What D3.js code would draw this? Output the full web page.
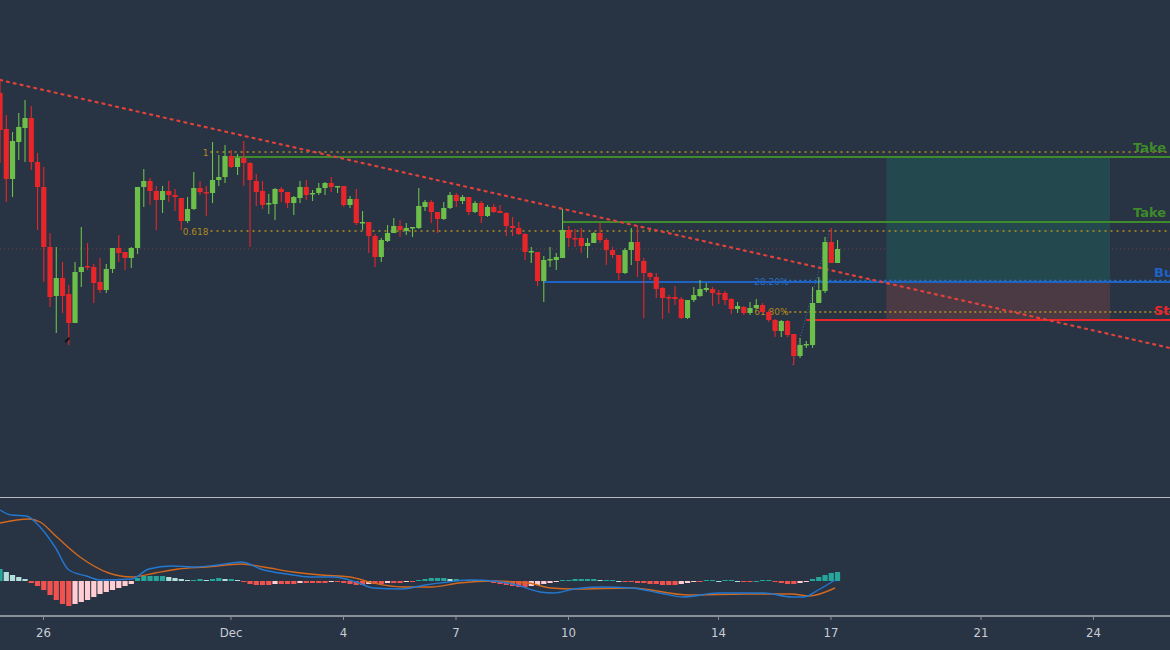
<!DOCTYPE html>
<html><head><meta charset="utf-8">
<script src="https://cdn.jsdelivr.net/npm/d3@7"></script>
<style>html,body{margin:0;padding:0;background:#283344;overflow:hidden}</style>
</head><body><svg id="c" width="1170" height="650"></svg>
<script>
// OHLC per 4h candle [open, high, low, close]
const candles = [
[407,420,337,370],[371,385,298,321],[321,368,303,359],[358,387,340,373],[372,400,338,382],
[382,394,330,338],[338,347,270,313],[313,333,218,253],[253,267,193,203],[204,253,167,222],
[222,238,187,204],[206,215,155,177],[177,238,177,228],[228,273,213,233],[234,257,230,233],
[233,236,197,217],[218,242,207,210],[210,236,207,231],[231,252,227,252],[252,265,238,247],
[248,248,230,242],[242,253,232,252],[252,313,246,313],[313,331,293,319],[319,322,295,309],
[309,314,270,300],[300,314,287,309],[309,319,298,305],[305,311,289,303],[302,302,270,279],
[279,303,277,291],[291,328,290,312],[312,319,305,308],[308,314,284,307],[307,358,297,320],
[320,345,314,323],[323,355,317,344],[344,350,332,333],[333,346,325,342],[342,359,314,337],
[337,338,253,320],[319,326,294,308],[309,319,291,295],[296,306,286,297],[296,312,280,311],
[311,313,298,308],[308,308,292,297],[297,304,285,303],[302,319,297,313],[313,320,300,305],
[306,310,299,307],[307,317,305,312],[312,318,305,317],[317,323,308,313],[313,314,307,314],
[314,314,293,295],[295,304,292,301],[301,311,275,277],[277,289,270,278],[278,278,247,264],
[264,266,233,243],[243,262,238,260],[259,275,258,267],[267,282,267,274],[274,280,263,270],
[269,277,265,272],[272,272,263,273],[272,312,271,294],[293,300,289,298],[298,300,277,288],
[288,288,267,281],[281,298,280,292],[292,308,291,305],[305,307,293,299],[299,305,296,303],
[303,303,285,288],[288,299,287,297],[297,299,277,284],[284,295,283,293],[293,296,287,288],
[289,295,287,287],[287,288,264,274],[274,283,264,272],[272,278,265,266],[266,267,240,248],
[248,253,237,249],[248,248,214,219],[219,244,198,240],[240,253,233,241],[240,247,230,243],
[242,291,242,270],[270,274,253,262],[262,271,253,261],[262,272,247,254],[254,262,242,257],
[257,268,257,267],[267,277,257,260],[260,262,235,250],[250,253,242,245],[245,245,220,227],
[227,252,226,250],[250,272,235,258],[258,275,223,239],[239,242,182,227],[227,228,220,223],
[223,227,202,211],[212,213,181,202],[203,205,187,202],[203,214,195,201],[201,203,181,182],
[182,200,181,200],[200,213,198,205],[204,220,203,211],[210,217,208,212],[211,213,194,207],
[207,210,196,206],[207,209,195,200],[201,202,186,191],[191,198,187,194],[193,194,185,187],
[187,198,185,192],[192,201,191,195],[195,197,187,188],[188,190,178,180],[180,181,163,169],
[169,180,163,179],[179,180,163,165],[166,166,135,144],[144,162,142,155],[155,159,152,156],
[155,213,152,197],[197,223,197,210],[209,263,207,258],[258,272,237,237],[237,260,237,251]
];
// MACD histogram per candle
const hist = [12,9,6,4,2,-2,-5,-9,-14,-19,-23,-25,-23,-21,-19,-16,-13,-11,-9,-7,-5,-3,
3,5,5,5,5,4,3,2,1,1,2,1,2,3,2,2,1,-1,-3,-4,-4,-4,-3,-3,-3,-3,-2,-2,-2,-2,-2,-1,-1,-2,
-3,-4,-4,-3,-3,-3,-2,-2,-2,-1,-1,1,2,3,3,3,2,2,1,1,1,0,-1,-2,-3,-4,-5,-6,-6,-5,-4,-3,-2,-1,
1,1,2,2,2,2,1,1,1,0,-1,-1,-2,-2,-3,-3,-4,-4,-4,-3,-2,-1,-1,1,1,0,1,1,0,-1,-1,0,1,1,-1,-2,-3,-3,-2,-1,2,4,6,8,9];
// MACD and signal lines [candle index, value]
const macdLine = [[0,71],[1.8,66],[4.2,65],[6.4,54],[8.8,34],[11,11],[13.8,5],[16,1],[21.1,2],[23.8,12],[27.5,15],[31.2,14],[34.9,16],[38.6,19],[42.2,11],[45.9,7],[49.6,4],[53.3,4],[57,-1],[59.7,-7],[64.3,-8],[68,-4],[71.7,-1],[75.4,1],[79,0],[82.7,-4],[86.4,-11],[88.6,-12],[91.8,-8],[96,-6],[101,-7],[105.6,-12],[109.3,-16],[114.9,-12],[122.2,-12],[126.7,-16],[128.6,-16],[130.9,-9],[133.6,1]];
const signalLine = [[0,58],[4.6,62],[6.4,59],[9.1,44],[12.8,24],[17.4,8],[21.1,4],[24.8,8],[28.5,12],[33.1,14],[38.6,17],[42.2,14],[46.9,9],[51.4,6],[56,4],[59.7,-2],[64.3,-6],[69,-6],[73.4,-2],[79,0],[84.5,-2],[88.2,-7],[91.8,-8],[101,-7],[110.2,-14],[119.4,-13],[126.7,-13],[129.4,-15],[133.6,-7]];
// Annotations
const trendLine = [[0,420],[187.2,152]];
const fibLevels = [{label:"1",price:348,start:34},{label:"0.618",price:269,start:34}];
const fibLevels2 = [{label:"28.20%",price:218,start:121},{label:"61.80%",price:188,start:121}];
const tradeLevels = [{label:"Take",price:343,start:37,color:"#3f8a2a"},{label:"Take",price:278,start:90,color:"#3f8a2a"},{label:"Bu",price:218,start:87,color:"#1f63c6"},{label:"St",price:180,start:129,color:"#e8262a"}];
const box = {from:141.8,to:177.6};
const lastPrice = 251;
const tickDates = [new Date(2020,10,26),new Date(2020,11,1),new Date(2020,11,4),new Date(2020,11,7),new Date(2020,11,10),new Date(2020,11,14),new Date(2020,11,17),new Date(2020,11,21),new Date(2020,11,24)];

const svg = d3.select("#c");
const start = new Date(2020,10,24,20,30);
const H4 = 4*3600*1000;
const tOf = i => new Date(start.getTime()+i*H4);
const x = d3.scaleTime().domain([new Date(2020,10,26),new Date(2020,11,24)]).range([43,1093]);
const X = i => x(tOf(i));
const y = d3.scaleLinear().domain([500,10]).range([0,490]);
const ym = d3.scaleLinear().domain([-30,30]).range([611,551]);

svg.append("line").attr("x1",0).attr("x2",1170).attr("y1",y(lastPrice)).attr("y2",y(lastPrice))
  .attr("stroke","#a04a55").attr("stroke-width",1).attr("stroke-dasharray","1,3").attr("opacity",0.7);

svg.append("rect").attr("x",X(box.from)).attr("width",X(box.to)-X(box.from))
  .attr("y",y(tradeLevels[0].price)).attr("height",y(tradeLevels[2].price)-y(tradeLevels[0].price)).attr("fill","#23494f");
svg.append("rect").attr("x",X(box.from)).attr("width",X(box.to)-X(box.from))
  .attr("y",y(tradeLevels[2].price)).attr("height",y(tradeLevels[3].price)-y(tradeLevels[2].price)).attr("fill","#4b3944");

fibLevels.forEach(f=>{
  svg.append("line").attr("x1",X(f.start)-2).attr("x2",1170).attr("y1",y(f.price)).attr("y2",y(f.price))
    .attr("stroke","#b8901c").attr("stroke-width",1.3).attr("stroke-dasharray","2,4");
  svg.append("text").attr("x",X(f.start)-4).attr("y",y(f.price)+3.5).attr("text-anchor","end")
    .attr("fill","#b08a1e").attr("font-family","DejaVu Sans").attr("font-size",9).text(f.label);
});
fibLevels2.forEach((f,k)=>{
  svg.append("line").attr("x1",X(f.start)+28).attr("x2",1170).attr("y1",y(f.price)-(k?0:1.5)).attr("y2",y(f.price)-(k?0:1.5))
    .attr("stroke",k?"#b8901c":"#2a6fc0").attr("stroke-width",1.3).attr("stroke-dasharray","2,3");
  svg.append("text").attr("x",X(f.start)-2).attr("y",y(f.price)+3).attr("fill",k?"#b08a1e":"#2a6fc0")
    .attr("font-family","DejaVu Sans").attr("font-size",9).text(f.label);
});
svg.append("line").attr("x1",X(126.8)).attr("y1",y(135)).attr("x2",X(132.8)).attr("y2",y(270))
  .attr("stroke","#3d6ea8").attr("stroke-width",1).attr("stroke-dasharray","1,2");

tradeLevels.forEach(l=>{
  svg.append("line").attr("x1",X(l.start)).attr("x2",1170).attr("y1",y(l.price)).attr("y2",y(l.price))
    .attr("stroke",l.color).attr("stroke-width",2);
  svg.append("text").attr("x",l.label==="Take"?1133:1154).attr("y",y(l.price)-5)
    .attr("fill",l.color).attr("font-family","DejaVu Sans").attr("font-weight","bold").attr("font-size",13).text(l.label);
});

svg.append("line").attr("x1",X(trendLine[0][0])).attr("y1",y(trendLine[0][1])).attr("x2",X(trendLine[1][0])).attr("y2",y(trendLine[1][1]))
  .attr("stroke","#e0413a").attr("stroke-width",2.2).attr("stroke-dasharray","2,5").attr("stroke-linecap","round");

const up="#6cc04a", dn="#e8262a";
const g = svg.append("g");
candles.forEach((c,i)=>{
  const [o,h,l,cl]=c, col = cl>=o?up:dn, cx=X(i);
  g.append("line").attr("x1",cx).attr("x2",cx).attr("y1",y(h)).attr("y2",y(l)).attr("stroke",col).attr("stroke-width",1.1);
  const top=y(Math.max(o,cl)), bot=y(Math.min(o,cl));
  g.append("rect").attr("x",cx-2.6).attr("width",5.2).attr("y",top).attr("height",Math.max(1.5,bot-top)).attr("fill",col);
});
svg.append("line").attr("x1",X(10.4)).attr("y1",y(158)).attr("x2",X(11.1)).attr("y2",y(162)).attr("stroke","#111").attr("stroke-width",2);

svg.append("line").attr("x1",0).attr("x2",1170).attr("y1",497.5).attr("y2",497.5).attr("stroke","#b4b8c0").attr("stroke-width",1);

hist.forEach((v,i)=>{
  const prev = i? hist[i-1] : v;
  let col;
  if (v>=0) col = v>=prev ? "#26a69a" : "#b2dfdb"; else col = v<=prev ? "#ef5350" : "#ffcdd2";
  const a=ym(0), b=ym(v);
  svg.append("rect").attr("x",X(i)-2.6).attr("width",5.2).attr("y",Math.min(a,b)).attr("height",Math.max(1,Math.abs(b-a))).attr("fill",col);
});
const ln = d3.line().x(d=>X(d[0])).y(d=>ym(d[1])).curve(d3.curveMonotoneX);
svg.append("path").attr("d",ln(signalLine)).attr("fill","none").attr("stroke","#d2691e").attr("stroke-width",1.4);
svg.append("path").attr("d",ln(macdLine)).attr("fill","none").attr("stroke","#2378d0").attr("stroke-width",1.4);

svg.append("line").attr("x1",0).attr("x2",1170).attr("y1",616).attr("y2",616).attr("stroke","#8a909a").attr("stroke-width",2);
const ax = svg.append("g").attr("transform","translate(0,616)")
  .call(d3.axisBottom(x).tickValues(tickDates).tickSize(4).tickPadding(8)
    .tickFormat(d=>d.getDate()===1?d3.timeFormat("%b")(d):d.getDate()));
ax.select(".domain").remove();
ax.selectAll(".tick line").attr("stroke","#8a909a");
ax.selectAll("text").attr("fill","#c9ced6").attr("font-family","DejaVu Sans Condensed, DejaVu Sans").attr("font-size",13);
</script></body></html>
